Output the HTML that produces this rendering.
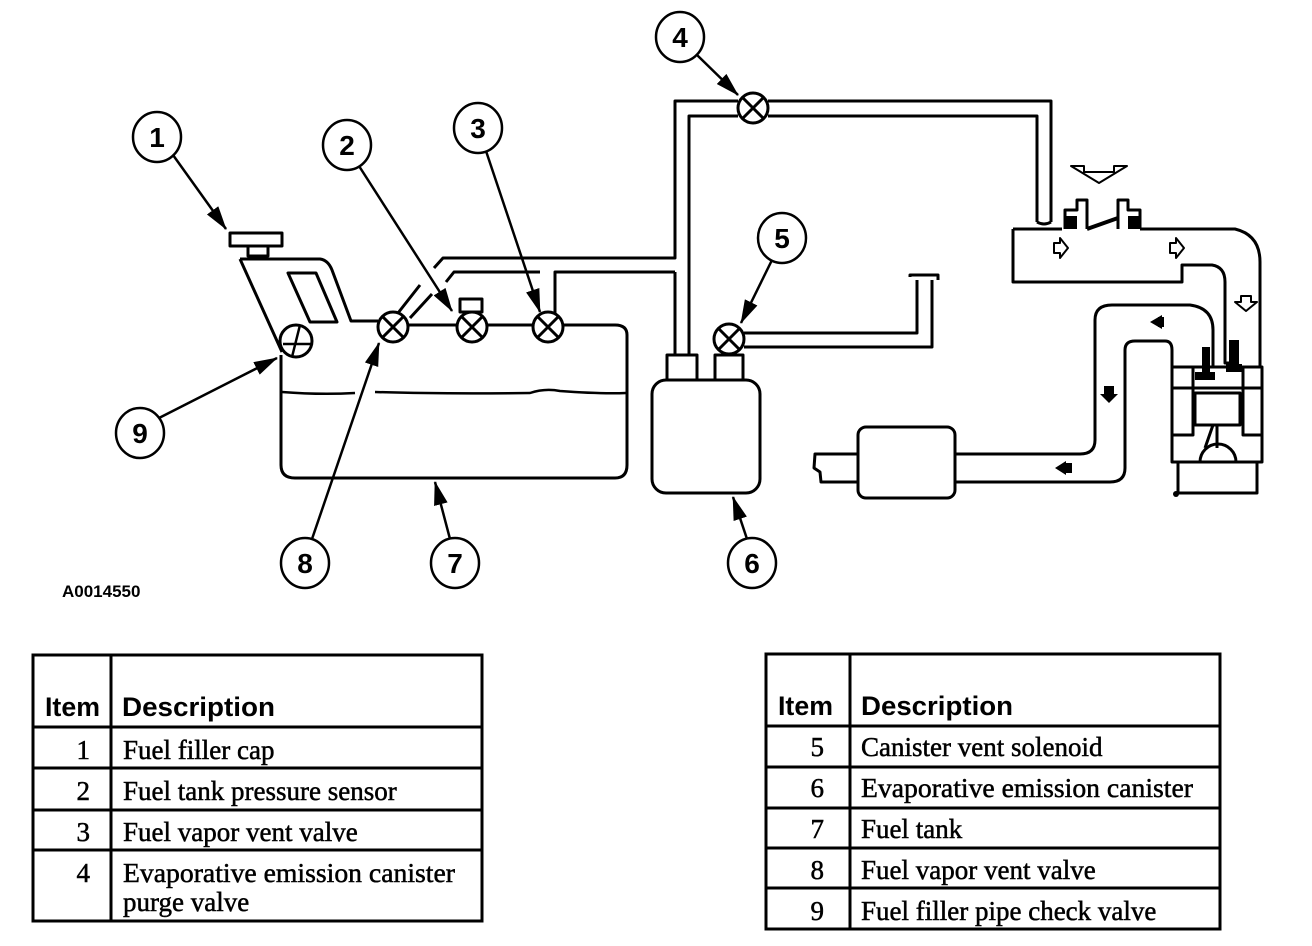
<!DOCTYPE html>
<html><head><meta charset="utf-8"><style>
html,body{margin:0;padding:0;background:#fff;}
svg{display:block}
.sn{font-family:"Liberation Sans",sans-serif;font-weight:bold;}
.sf{font-family:"Liberation Serif",serif;}
</style></head><body>
<svg width="1312" height="946" viewBox="0 0 1312 946" xmlns="http://www.w3.org/2000/svg">
<defs>
<marker id="ah2" viewBox="0 0 24 14" refX="23" refY="7" markerWidth="24" markerHeight="14" orient="auto" markerUnits="userSpaceOnUse"><path d="M0,0 L24,7 L0,14 Z" fill="#000"/></marker>
</defs>
<g fill="none" stroke="#000" stroke-width="3" stroke-linejoin="round">
<rect x="230" y="233" width="52" height="13"/>
<rect x="248" y="246" width="20" height="10"/>
<path d="M240,259 L320,259 Q328,260 332,270 L351,321 L378,321"/>
<path d="M240,259 L282,352"/>
<path d="M288,273 L316,273 L337,322 L310,322 Z"/>
<circle cx="296" cy="341" r="16"/>
<path d="M283,344 L311,344 M300,325 L292,357" stroke-width="2.5"/>
<path d="M281,355 L281,465 Q281,478 295,478 L615,478 Q627,478 627,465 L627,335 Q627,325 615,325 L563,325"/>
<path d="M408,325 L457,325 M487,325 L533,325"/>
<path d="M282,392 Q320,395 355,393 M375,392 Q440,394 530,393 Q545,388 560,391 Q600,394 626,393" stroke-width="2.5"/>
<g>
<circle cx="393" cy="327" r="15"/><path d="M382,316 L404,338 M404,316 L382,338"/>
<circle cx="472" cy="327" r="15"/><path d="M461,316 L483,338 M483,316 L461,338"/>
<circle cx="548" cy="327" r="15"/><path d="M537,316 L559,338 M559,316 L537,338"/>
</g>
<rect x="460" y="299" width="22" height="13"/>
<path d="M398,313 L420,285 M410,318 L432,294"/>
<path d="M434,268 L443,258 L675,258 L675,101 L738,101"/>
<path d="M446,282 L454,272 L540,272"/>
<path d="M555,313 L555,272 L675,272"/>
<path d="M689,355 L689,116 L738,116"/>
<path d="M675,272 L675,355"/>
<circle cx="753" cy="108" r="15"/><path d="M742,97 L764,119 M764,97 L742,119"/>
<path d="M768,101 L1051,101 L1051,222 M768,116 L1037,116 L1037,222"/>
<path d="M1037,222 Q1044,226 1051,222"/>
<rect x="652" y="380" width="108" height="113" rx="14"/>
<rect x="667" y="355" width="30" height="25"/>
<rect x="715" y="355" width="28" height="25"/>
<circle cx="729" cy="339" r="15"/><path d="M718,328 L740,350 M740,328 L718,350"/>
<path d="M744,333 L917,333 L917,280 M744,347 L932,347 L932,280 M910,277 L910,275 L938,275 L938,280"/>
<rect x="858" y="427" width="97" height="71" rx="8"/>
<path d="M858,454 L815,454 L814,468 L820,472 L821,482 L858,482"/>
<path d="M955,454 L1080,454 Q1095,454 1095,440 L1095,320 Q1095,305 1112,305 L1190,305 Q1213,308 1213,330 L1213,367"/>
<path d="M955,482 L1110,482 Q1125,482 1125,468 L1125,350 Q1125,341 1135,341 L1165,341 Q1172,341 1172,350 L1172,367"/>
<path d="M1013,229 L1013,282 L1182,282 L1182,265 L1212,265 Q1225,267 1225,282 L1225,363 L1230,363"/>
<path d="M1013,229 L1062,229 M1140,229 L1235,229 Q1260,235 1260,262 L1260,367"/>
<path d="M1065,229 L1065,210 L1077,210 L1077,200 L1087,200 L1087,229 M1118,229 L1118,200 L1128,200 L1128,210 L1140,210 L1140,229"/>
<path d="M1087,229 L1118,218" stroke-width="4"/>
<rect x="1172" y="367" width="90" height="95"/>
<path d="M1172,388 L1262,388 M1193,367 L1193,435 L1172,435 M1243,367 L1243,435 L1262,435"/>
<rect x="1195" y="393" width="45" height="32"/>
<path d="M1217,425 L1217,448 M1213,425 L1205,448"/>
<path d="M1200,462 A18,18 0 0 1 1236,462"/>
<rect x="1178" y="462" width="79" height="31"/>
<path d="M1084,172 L1114,172 L1114,166 L1127,166 L1099,183 L1071,166 L1084,166 Z" stroke-width="2"/>
<path d="M1054,243 L1060,243 L1060,238 L1068,248 L1060,258 L1060,253 L1054,253 Z" stroke-width="2"/>
<path d="M1170,243 L1176,243 L1176,238 L1184,248 L1176,258 L1176,253 L1170,253 Z" stroke-width="2"/>
<path d="M1241,296 L1251,296 L1251,302 L1257,302 L1246,311 L1235,302 L1241,302 Z" stroke-width="2"/>
<g stroke-width="2.5">
<ellipse cx="157" cy="137" rx="24" ry="25"/><ellipse cx="347" cy="145" rx="24" ry="25"/><ellipse cx="478" cy="128" rx="24" ry="25"/>
<ellipse cx="680" cy="37" rx="24" ry="25"/><ellipse cx="782" cy="238" rx="24" ry="25"/><ellipse cx="140" cy="433" rx="24" ry="25"/>
<ellipse cx="305" cy="563" rx="24" ry="25"/><ellipse cx="455" cy="563" rx="24" ry="25"/><ellipse cx="752" cy="563" rx="24" ry="25"/>
<path d="M173,155 L226,229" marker-end="url(#ah2)"/>
<path d="M359,166 L452,311" marker-end="url(#ah2)"/>
<path d="M486,151 L540,312" marker-end="url(#ah2)"/>
<path d="M697,55 L738,95" marker-end="url(#ah2)"/>
<path d="M772,260 L741,323" marker-end="url(#ah2)"/>
<path d="M159,418 L277,358" marker-end="url(#ah2)"/>
<path d="M312,539 L379,343" marker-end="url(#ah2)"/>
<path d="M450,539 L435,482" marker-end="url(#ah2)"/>
<path d="M747,539 L733,497" marker-end="url(#ah2)"/>
</g>
</g>
<g fill="#000">
<path d="M1150,322 L1162,315 L1162,329 Z M1158,317 L1164,317 L1164,327 L1158,327 Z"/>
<path d="M1100,394 L1118,394 L1109,403 Z M1104,386 L1114,386 L1114,395 L1104,395 Z"/>
<path d="M1055,468 L1066,461 L1066,475 Z M1064,463 L1072,463 L1072,473 L1064,473 Z"/>
<rect x="1202" y="347" width="8" height="28"/><rect x="1195" y="372" width="20" height="8"/>
<rect x="1229" y="340" width="10" height="28"/><rect x="1226" y="364" width="16" height="8"/>
<rect x="1065" y="216" width="12" height="13"/><rect x="1128" y="216" width="12" height="13"/>
<circle cx="1176" cy="494" r="3"/>
</g>
<text x="62" y="597" class="sn" font-size="17">A0014550</text>
<g class="sn" font-size="28" text-anchor="middle">
<text x="157" y="147">1</text><text x="347" y="155">2</text><text x="478" y="138">3</text>
<text x="680" y="47">4</text><text x="782" y="248">5</text><text x="140" y="443">9</text>
<text x="305" y="573">8</text><text x="455" y="573">7</text><text x="752" y="573">6</text>
</g>
<g fill="none" stroke="#000" stroke-width="3">
<rect x="33" y="655" width="449" height="266"/>
<path d="M111,655 L111,921 M33,727 L482,727 M33,768 L482,768 M33,810 L482,810 M33,850 L482,850"/>
<rect x="766" y="654" width="454" height="275"/>
<path d="M850,654 L850,929 M766,726 L1220,726 M766,767 L1220,767 M766,808 L1220,808 M766,848 L1220,848 M766,888 L1220,888"/>
</g>
<g class="sn" font-size="27">
<text x="45" y="716" textLength="55" lengthAdjust="spacingAndGlyphs">Item</text><text x="122" y="716" textLength="153" lengthAdjust="spacingAndGlyphs">Description</text>
<text x="778" y="715" textLength="55" lengthAdjust="spacingAndGlyphs">Item</text><text x="861" y="715" textLength="152" lengthAdjust="spacingAndGlyphs">Description</text>
</g>
<g class="sf" font-size="27" stroke="#000" stroke-width="0.5">
<text x="90" y="759" text-anchor="end">1</text><text x="123" y="759">Fuel filler cap</text>
<text x="90" y="800" text-anchor="end">2</text><text x="123" y="800">Fuel tank pressure sensor</text>
<text x="90" y="841" text-anchor="end">3</text><text x="123" y="841">Fuel vapor vent valve</text>
<text x="90" y="882" text-anchor="end">4</text><text x="123" y="882" textLength="332" lengthAdjust="spacingAndGlyphs">Evaporative emission canister</text>
<text x="123" y="911">purge valve</text>
<text x="824" y="756" text-anchor="end">5</text><text x="861" y="756">Canister vent solenoid</text>
<text x="824" y="797" text-anchor="end">6</text><text x="861" y="797" textLength="332" lengthAdjust="spacingAndGlyphs">Evaporative emission canister</text>
<text x="824" y="838" text-anchor="end">7</text><text x="861" y="838">Fuel tank</text>
<text x="824" y="879" text-anchor="end">8</text><text x="861" y="879">Fuel vapor vent valve</text>
<text x="824" y="920" text-anchor="end">9</text><text x="861" y="920">Fuel filler pipe check valve</text>
</g>
</svg>
</body></html>
